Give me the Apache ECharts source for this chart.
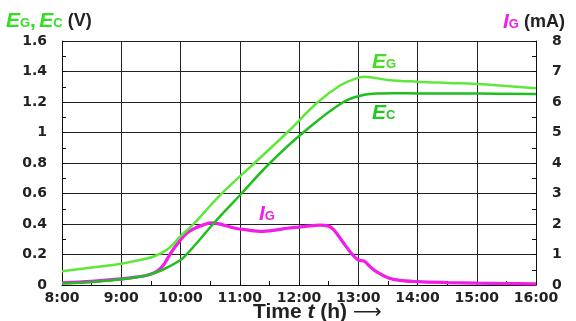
<!DOCTYPE html>
<html><head><meta charset="utf-8">
<script src="https://cdn.jsdelivr.net/npm/echarts@6/dist/echarts.min.js"></script>
<style>html,body{margin:0;padding:0;background:#fff}#c{width:576px;height:321px}</style>
</head><body><div id="c"></div>
<script>
// Time axis (hours) and tick labels
var hourTicks = [8, 9, 10, 11, 12, 13, 14, 15, 16];
var hourLabels = ['8:00','9:00','10:00','11:00','12:00','13:00','14:00','15:00','16:00'];
var leftTickLabels = ['0','0.2','0.4','0.6','0.8','1','1.2','1.4','1.6'];
var rightTickLabels = ['0','1','2','3','4','5','6','7','8'];

// E_G (V)
var egHours  = [8, 8.5, 9, 9.33, 9.57, 9.8, 10, 10.22, 10.67, 11.25, 11.8, 12.32, 12.7, 12.97, 13.1, 13.5, 14, 14.5, 15, 15.5, 16];
var egValues = [0.09, 0.115, 0.14, 0.165, 0.19, 0.24, 0.32, 0.40, 0.59, 0.80, 1.0, 1.2, 1.31, 1.355, 1.365, 1.345, 1.333, 1.325, 1.318, 1.305, 1.29];

// E_C (V)
var ecHours  = [8, 8.5, 9, 9.45, 9.7, 10, 10.1, 10.33, 10.55, 11.03, 11.51, 12.07, 12.75, 13.08, 13.3, 13.6, 14, 15, 16];
var ecValues = [0.01, 0.02, 0.037, 0.066, 0.1, 0.164, 0.2, 0.3, 0.4, 0.6, 0.8, 1.0, 1.2, 1.246, 1.255, 1.257, 1.256, 1.255, 1.252];

// I_G (mA)
var igHours  = [8, 8.5, 9, 9.25, 9.45, 9.6, 9.7, 9.85, 10, 10.12, 10.25, 10.4, 10.52, 10.7, 10.92, 11.15, 11.35, 11.6, 11.8, 12, 12.2, 12.35, 12.5, 12.58, 12.67, 12.8, 12.9, 13, 13.1, 13.2, 13.32, 13.5, 13.7, 14, 14.5, 15, 15.5, 16];
var igValues = [0.07, 0.12, 0.2, 0.26, 0.33, 0.45, 0.62, 1.09, 1.48, 1.72, 1.87, 1.98, 2.04, 1.98, 1.86, 1.8, 1.76, 1.8, 1.86, 1.9, 1.94, 1.96, 1.93, 1.82, 1.6, 1.25, 1.0, 0.82, 0.78, 0.6, 0.42, 0.24, 0.15, 0.11, 0.08, 0.06, 0.05, 0.04];

function zip(a, b) { return a.map(function (x, i) { return [x, b[i]]; }); }

var FONT = '"Liberation Sans", Arial, sans-serif';
var TFONT = '"DejaVu Sans", sans-serif';
var LG = '#5fe83a', DG = '#1fbf1f', MG = '#f01ee6', TXT = '#222';

function sub(color, big, small) {
  return {
    e: { fontFamily: FONT, fontWeight: 'bold', fontStyle: 'italic', fontSize: big, fill: color },
    s: { fontFamily: FONT, fontWeight: 'bold', fontSize: small, fill: color, padding: [3, 0, 0, 0] },
    c: { fontFamily: FONT, fontWeight: 'bold', fontSize: big, fill: color },
    v: { fontFamily: FONT, fontWeight: 'bold', fontSize: 18, fill: TXT }
  };
}

var chart = echarts.init(document.getElementById('c'));
chart.setOption({
  animation: false,
  backgroundColor: '#fff',
  grid: { left: 62, right: 40, top: 41, bottom: 36 },
  xAxis: {
    type: 'value', min: 8, max: 16, interval: 1,
    axisLine: { lineStyle: { color: '#111', width: 1 } },
    axisTick: { show: true, inside: true, length: 4, lineStyle: { color: '#111' } },
    minorTick: { show: true, splitNumber: 2, length: 4, lineStyle: { color: '#111' } },
    splitLine: { show: true, lineStyle: { color: '#222', width: 1 } },
    axisLabel: {
      margin: 6, color: TXT, fontFamily: TFONT, fontWeight: 'bold', fontSize: 14,
      formatter: function (v) { var i = hourTicks.indexOf(v); return i >= 0 ? hourLabels[i] : ''; }
    }
  },
  yAxis: [{
    type: 'value', min: 0, max: 1.6, interval: 0.2,
    axisLine: { show: true, lineStyle: { color: '#111' } },
    axisTick: { show: true, inside: true, length: 4, lineStyle: { color: '#111' } },
    minorTick: { show: true, splitNumber: 2, length: 4, lineStyle: { color: '#111' } },
    splitLine: { show: true, lineStyle: { color: '#222', width: 1 } },
    axisLabel: {
      margin: 15, color: TXT, fontFamily: TFONT, fontWeight: 'bold', fontSize: 14,
      formatter: function (v) { return leftTickLabels[Math.round(v / 0.2)]; }
    }
  }, {
    type: 'value', min: 0, max: 8, interval: 1, position: 'right',
    axisLine: { show: true, lineStyle: { color: '#111' } },
    axisTick: { show: true, inside: true, length: 4, lineStyle: { color: '#111' } },
    minorTick: { show: true, splitNumber: 2, length: 4, lineStyle: { color: '#111' } },
    splitLine: { show: false },
    axisLabel: {
      margin: 16, color: TXT, fontFamily: TFONT, fontWeight: 'bold', fontSize: 14,
      formatter: function (v) { return rightTickLabels[Math.round(v)]; }
    }
  }],
  series: [{
    type: 'line', yAxisIndex: 1, data: zip(igHours, igValues), showSymbol: false, smooth: 0.35,
    lineStyle: { color: MG, width: 3.2 }, z: 3
  }, {
    type: 'line', yAxisIndex: 0, data: zip(ecHours, ecValues), showSymbol: false, smooth: 0.4,
    lineStyle: { color: DG, width: 2.5 }, z: 4
  }, {
    type: 'line', yAxisIndex: 0, data: zip(egHours, egValues), showSymbol: false, smooth: 0.4,
    lineStyle: { color: LG, width: 2.5 }, z: 5
  }],
  graphic: [{
    type: 'text', left: 6, top: 11,
    style: { text: '{e|E}{s|G}{c|,} {e|E}{s|C}{v| (V)}', rich: sub('#33dd22', 21, 13) }
  }, {
    type: 'text', left: 503, top: 12,
    style: { text: '{e|I}{s|G}{v| (mA)}', rich: sub(MG, 21, 13) }
  }, {
    type: 'text', left: 372, top: 52,
    style: { text: '{e|E}{s|G}', rich: sub('#44dd22', 21, 13) }
  }, {
    type: 'text', left: 372, top: 103,
    style: { text: '{e|E}{s|C}', rich: sub('#22c822', 21, 13) }
  }, {
    type: 'text', left: 259, top: 204,
    style: { text: '{e|I}{s|G}', rich: sub(MG, 21, 13) }
  }, {
    type: 'text', left: 253, top: 302,
    style: {
      text: '{n|Time }{t|t}{n| (h) }{a|⟶}',
      rich: {
        n: { fontFamily: FONT, fontWeight: 'bold', fontSize: 21, fill: TXT },
        t: { fontFamily: FONT, fontWeight: 'bold', fontStyle: 'italic', fontSize: 21, fill: TXT },
        a: { fontFamily: 'DejaVu Sans', fontSize: 20, fill: TXT }
      }
    }
  }]
});
</script></body></html>
